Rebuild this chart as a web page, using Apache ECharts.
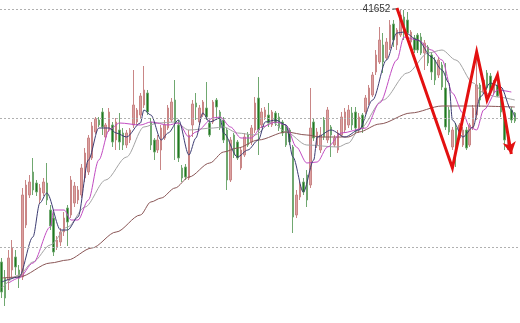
<!DOCTYPE html>
<html>
<head>
<meta charset="utf-8">
<script src="https://cdn.jsdelivr.net/npm/echarts@6/dist/echarts.min.js"></script>
<style>
html,body{margin:0;padding:0;background:#fff;}
#chart{width:520px;height:323px;}
</style>
</head>
<body>
<div id="chart"></div>
<script>
// ---- data (price units) ----
const opens = [39122,38962,38942,39042,39172,39042,38972,39492,39792,40022,39912,39742,39812,39912,39642,39562,39272,39322,39422,39662,39592,39712,39742,39792,39962,40022,40162,40422,40542,40622,40372,40442,40492,40342,40442,40412,40292,40342,40492,40522,40592,40692,40812,40522,40342,40242,40242,40362,40462,40542,40742,40492,40062,40072,39962,40492,40712,40522,40592,40662,40512,40522,40742,40622,40542,40442,39942,40392,40322,40062,40192,40392,40322,40442,40762,40492,40572,40592,40492,40612,40572,40522,40472,40442,40272,39592,39772,39922,39992,39892,40522,40292,40242,40542,40342,40472,40292,40242,40392,40442,40492,40612,40622,40442,40592,40622,40712,40792,41022,41122,41292,41162,41262,41502,41292,41392,41572,41542,41322,41362,41392,41372,41212,41272,41192,41142,40992,41092,40862,40642,40272,40462,40362,40292,40442,40292,40462,40592,40892,40822,41012,40982,40822,40892,40842,40592,40292,40642,40612];
const closes = [38822,38762,39162,39262,39072,38962,39792,39892,39922,39842,39822,39862,39922,39742,39482,39222,39342,39422,39562,39522,39942,39882,39842,40062,40212,40362,40482,40552,40492,40472,40492,40622,40322,40522,40322,40292,40412,40442,40692,40642,40782,40842,40622,40292,40222,40342,40462,40492,40662,40722,40512,40162,39962,39972,40392,40702,40672,40662,40722,40572,40392,40722,40672,40462,40342,39942,40342,40192,40162,40242,40372,40292,40462,40712,40442,40622,40642,40512,40622,40512,40462,40412,40292,40322,39572,39792,39892,39822,39742,40462,40362,40422,40392,40372,40642,40392,40362,40412,40572,40622,40642,40492,40462,40572,40462,40762,40862,40992,41192,41342,41122,41322,41492,41342,41442,41592,41412,41412,41422,41242,41242,41212,41312,41112,41022,40942,41142,40872,40472,40422,40442,40292,40492,40442,40262,40492,40662,40892,40742,40942,40862,40822,40922,40782,40622,40342,40422,40542,40532];
const lows = [38762,38682,38842,38962,38992,38862,38942,39462,39762,39792,39782,39702,39782,39692,39442,39182,39242,39282,39382,39282,39562,39672,39702,39762,39922,39992,40142,40402,40472,40392,40342,40422,40272,40242,40242,40242,40262,40312,40462,40492,40562,40662,40592,40242,40142,40212,40042,40342,40442,40522,40142,40122,39922,39942,39942,40372,40542,40492,40572,40542,40372,40502,40542,40442,40312,39842,39922,40162,40142,40042,40172,40272,40292,40412,40192,40462,40542,40472,40472,40482,40432,40382,40272,40292,39412,39562,39742,39792,39672,39862,40332,40262,40212,40342,40312,40172,40272,40212,40372,40412,40462,40442,40412,40412,40412,40602,40692,40772,40992,41102,41012,41142,41242,41272,41242,41372,41342,41382,41302,41212,41212,41192,41042,41082,40942,40892,40962,40842,40442,40392,40242,40072,40342,40272,40242,40272,40442,40542,40672,40812,40842,40812,40792,40772,40572,40242,40242,40512,40512];
const highs = [39162,39042,39242,39342,39242,39092,39862,39942,39992,40162,39942,39902,39962,40112,39692,39622,39382,39462,39622,39692,39982,39922,39882,40102,40262,40392,40522,40572,40572,40662,40512,40662,40522,40562,40612,40462,40442,40462,41042,40662,40812,41082,40842,40562,40362,40392,40492,40542,40692,40762,40942,40542,40092,40102,40442,40742,40812,40692,40742,40922,40542,40742,40762,40642,40572,40462,40372,40412,40342,40272,40412,40422,40492,40772,40972,40662,40672,40712,40642,40632,40612,40542,40492,40462,40292,39842,39922,39962,40042,40862,40562,40462,40472,40572,40672,40492,40392,40442,40622,40662,40692,40672,40672,40612,40612,40792,40892,41022,41242,41472,41412,41362,41542,41542,41462,41652,41642,41622,41442,41392,41412,41412,41342,41292,41222,41172,41172,41122,41112,40672,40472,40512,40512,40472,40472,40512,40692,41242,40912,40962,41042,41012,40942,40922,40872,40622,40462,40672,40622];

// moving averages: [candle index, value]
const maNavy = [[0,38922],[5,38972],[9,39372],[11,39712],[13,39812],[17,39442],[19,39442],[22,39572],[25,40142],[28,40462],[31,40462],[33,40412],[36,40372],[40,40512],[41,40642],[43,40592],[46,40342],[48,40412],[51,40542],[54,40192],[56,40362],[58,40612],[60,40522],[63,40562],[64,40412],[68,40172],[71,40242],[74,40342],[76,40522],[79,40542],[82,40492],[84,40172],[87,39822],[90,40142],[91,40372],[95,40442],[99,40372],[103,40442],[107,40742],[111,41142],[114,41412],[116,41422],[120,41342],[124,41172],[127,41042],[129,40912],[130,40542],[133,40372],[136,40472],[138,40772],[141,40912],[144,40872],[147,40642],[148,40572]];
const maMagenta = [[2,38912],[5,38962],[9,39112],[14,39472],[15,39642],[18,39642],[20,39542],[22,39542],[25,39742],[28,40142],[31,40442],[34,40512],[40,40492],[43,40522],[48,40492],[51,40512],[54,40372],[56,40422],[61,40562],[63,40572],[66,40472],[69,40362],[72,40362],[75,40472],[79,40522],[82,40492],[85,40272],[88,40112],[91,40122],[94,40272],[98,40412],[105,40462],[109,40712],[114,41142],[116,41372],[120,41342],[124,41242],[127,41142],[130,40812],[133,40612],[135,40472],[137,40442],[139,40642],[143,40842],[147,40822]];
const maGray = [[0,38862],[5,38992],[9,39122],[14,39292],[19,39472],[24,39672],[30,39942],[36,40172],[41,40472],[45,40512],[50,40522],[54,40442],[61,40462],[64,40472],[68,40412],[73,40392],[78,40522],[82,40422],[88,40292],[97,40272],[100,40312],[103,40442],[110,40742],[117,41012],[123,41212],[127,41242],[131,41142],[136,40912],[139,40812],[143,40772],[148,40742]];
const maBrown = [[0,38962],[5,38972],[14,39112],[19,39142],[26,39262],[33,39422],[40,39592],[43,39722],[46,39762],[50,39862],[54,39972],[60,40112],[64,40222],[68,40262],[74,40342],[82,40422],[88,40392],[92,40372],[100,40372],[103,40422],[109,40502],[118,40612],[127,40682],[136,40682],[148,40672]];

// hand-drawn zigzag: [candle index, value]
const zigzag = [[114,41662],[130,40062],[137,41222],[140,40742],[143,40992],[147,40202]];
// dashed reference levels
const refLevels = [41652,40562,39272];
const candleCount = 150;

const categories = Array.from({length: candleCount}, (_, i) => 'D' + (i + 1));
const candleData = opens.map((o, i) => [o, closes[i], lows[i], highs[i]]);

const chart = echarts.init(document.getElementById('chart'), null, {renderer: 'canvas'});
const maStyle = (color) => ({type: 'line', data: null, smooth: 0.3, smoothMonotone: 'x', showSymbol: false, symbol: 'none',
  lineStyle: {color: color, width: 1}, z: 3, silent: true});

chart.setOption({
  animation: false,
  backgroundColor: '#ffffff',
  grid: {left: 0, right: 0, top: 0, bottom: 0},
  xAxis: {type: 'category', data: categories, boundaryGap: true, show: false},
  yAxis: {type: 'value', min: 38512, max: 41742, show: false, splitLine: {show: false}},
  series: [
    {
      type: 'candlestick',
      data: candleData,
      barWidth: 2,
      itemStyle: {color: '#dca0a0', borderColor: '#c98686', color0: '#1f7a1f', borderColor0: '#70a870', borderWidth: 1},
      markLine: {
        silent: true, symbol: 'none', animation: false,
        label: {show: false},
        lineStyle: {color: '#b0b0b0', type: [2, 2], width: 1},
        data: refLevels.map(v => ({yAxis: v}))
      },
      markPoint: {
        silent: true,
        data: [{type: 'max', valueDim: 'highest'}],
        symbol: 'rect', symbolSize: [6, 1], symbolOffset: [-5, 0],
        itemStyle: {color: '#444'},
        label: {show: true, position: 'left', distance: 2, formatter: '{c}', color: '#333',
          fontSize: 10, fontFamily: 'Liberation Sans, Arial, sans-serif'}
      },
      z: 2
    },
    Object.assign(maStyle('#a4a4a4'), {data: maGray}),
    Object.assign(maStyle('#8a5656'), {data: maBrown}),
    Object.assign(maStyle('#c24cc2'), {data: maMagenta}),
    Object.assign(maStyle('#3c3c72'), {data: maNavy}),
    {
      type: 'line', data: zigzag, symbol: 'none', smooth: false,
      lineStyle: {color: '#e31010', width: 3, join: 'miter'}, z: 5, silent: true,
      markPoint: {
        silent: true,
        data: [{coord: zigzag[zigzag.length - 1]}],
        symbol: 'arrow', symbolSize: [10, 12], symbolRotate: 190,
        itemStyle: {color: '#e31010'}, label: {show: false}
      }
    }
  ]
});
</script>
</body>
</html>
